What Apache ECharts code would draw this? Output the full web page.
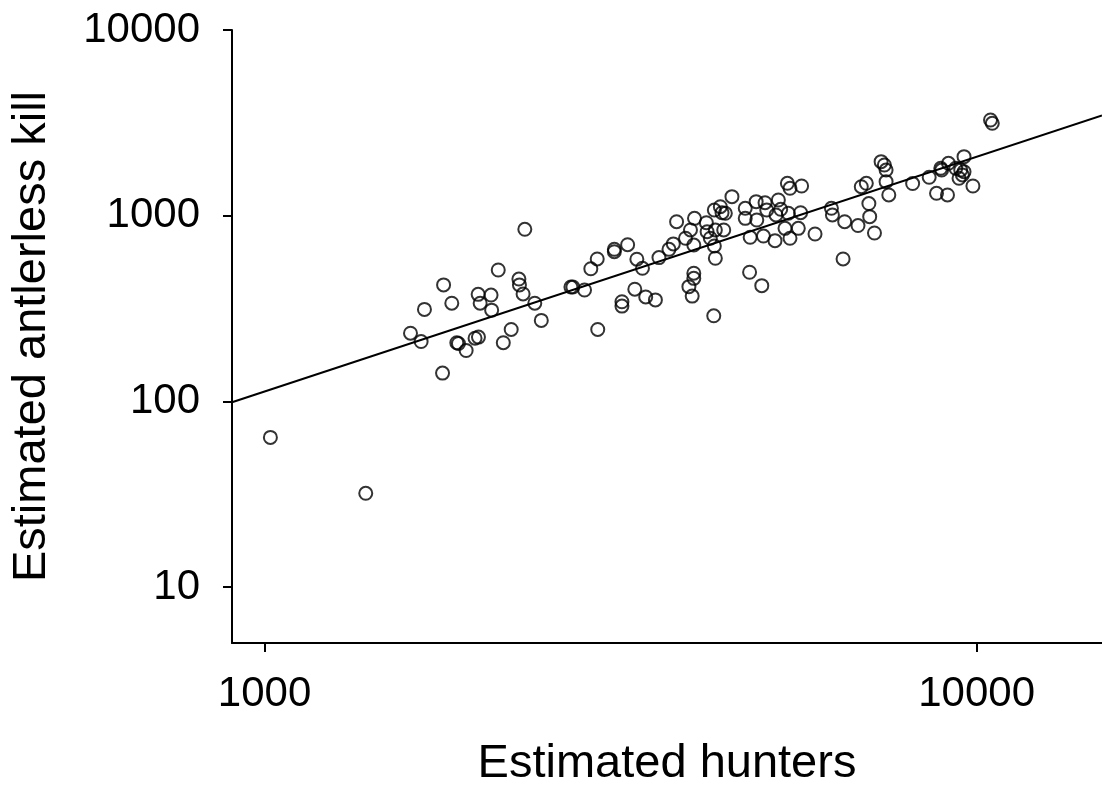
<!DOCTYPE html>
<html>
<head>
<meta charset="utf-8">
<script src="https://cdn.jsdelivr.net/npm/echarts@6/dist/echarts.min.js"></script>
<style>
    html, body { margin: 0; padding: 0; background: #fff; }
    #chart { width: 1102px; height: 793px; }
</style>
</head>
<body>
<div id="chart"></div>
<script>
// estimated hunters (x) and estimated antlerless kill (y), one entry per unit
const hunters = [
    1019, 1387,
    1603, 1659, 1677, 1784, 1778, 1832, 1862, 1872, 1919, 1975, 1997, 1995, 2080, 2008, 2084,
    2129, 2320, 2276, 2280, 2307, 2396, 2447, 2220, 2164, 2710, 2693, 2814, 2872, 2932, 2937,
    3099, 3099, 3235, 3333, 3394, 3311, 3430, 3539, 3176, 3176, 3580, 3698, 3750, 3790, 3901,
    3964, 4007, 4016, 4173, 4282, 4366, 4390, 4437, 4183, 4296, 4414, 4227, 4282, 4296, 4007,
    4007, 3944, 3986, 4274, 4533, 4732, 4732, 4902, 4912, 4808, 5045, 5073, 5019, 5210, 5267,
    5307, 5227, 5440, 5469, 5618, 5660, 5381, 5423, 5469, 5678, 5930, 4799, 4992, 6253, 6273,
    6527, 6814, 6493, 6887, 7000, 7058, 7077, 7187, 7343, 7421, 7462, 7462, 7528, 8131, 8578,
    8906, 8930, 9130, 9601, 9348, 9499, 9601, 9550, 9447, 8784, 9101, 9881, 10460, 10520
];
const antlerlessKill = [
    64, 32,
    233, 210, 313, 424, 142, 338, 207, 205, 188, 219, 222, 377, 374, 338, 310,
    510, 845, 456, 424, 379, 338, 273, 244, 207, 413, 413, 398, 518, 585, 244,
    659, 640, 698, 583, 521, 402, 365, 352, 344, 326, 595, 659, 705, 928, 756,
    838, 695, 968, 917, 1073, 1118, 1038, 1030, 820, 838, 838, 756, 687, 590, 490,
    460, 415, 369, 289, 1266, 1096, 968, 1190, 948, 765, 1175, 1073, 777, 734, 1215,
    1083, 1009, 1030, 756, 855, 1038, 855, 1495, 1405, 1445, 797, 496, 420, 1096, 1009,
    928, 885, 585, 1433, 1495, 1163, 988, 807, 1954, 1875, 1762, 1525, 1293, 1490, 1610,
    1800, 1762, 1915, 2079, 1800, 1762, 1726, 1657, 1590, 1320, 1293, 1445, 3276, 3145
];

// axis ranges and tick labels
const xRange = [900, 15000];
const yRange = [5, 10000];
const xTicks = [1000, 10000];
const yTicks = [10, 100, 1000, 10000];

// fitted line: log10(kill) = fitIntercept + fitSlope * log10(hunters)
const fitIntercept = -1.739;
const fitSlope = 1.264;

const points = hunters.map((h, i) => [h, antlerlessKill[i]]);
const fitLine = xRange.map(h => [h, Math.pow(10, fitIntercept + fitSlope * Math.log10(h))]);

const font = "'Liberation Sans', Arial, sans-serif";

const init = () => {
    const myChart = echarts.init(document.getElementById('chart'));
    let option = {
        animation: false,
        backgroundColor: '#fff',
        grid: {
            left: 232,
            top: 30,
            right: -5,
            bottom: 150
        },
        xAxis: {
            type: 'log',
            logBase: 10,
            min: xRange[0],
            max: xRange[1],
            name: 'Estimated hunters',
            nameLocation: 'middle',
            nameGap: 98,
            nameTextStyle: { fontSize: 47, color: '#000', fontFamily: font },
            axisLine: { lineStyle: { color: '#000', width: 2 } },
            axisTick: { length: 9, customValues: xTicks, lineStyle: { color: '#000', width: 2 } },
            axisLabel: {
                customValues: xTicks,
                margin: 30,
                fontSize: 42,
                color: '#000',
                fontFamily: font,
                formatter: v => String(v)
            },
            splitLine: { show: false },
            minorTick: { show: false }
        },
        yAxis: {
            type: 'log',
            logBase: 10,
            min: yRange[0],
            max: yRange[1],
            name: 'Estimated antlerless kill',
            nameLocation: 'middle',
            nameRotate: 90,
            nameGap: 176,
            nameTextStyle: { fontSize: 47, color: '#000', fontFamily: font },
            axisLine: { lineStyle: { color: '#000', width: 2 } },
            axisTick: { length: 9, customValues: yTicks, lineStyle: { color: '#000', width: 2 } },
            axisLabel: {
                customValues: yTicks,
                margin: 32,
                fontSize: 42,
                color: '#000',
                fontFamily: font,
                formatter: v => String(v)
            },
            splitLine: { show: false }
        },
        series: [
            {
                type: 'line',
                data: fitLine,
                showSymbol: false,
                lineStyle: { color: '#000', width: 2 },
                silent: true
            },
            {
                type: 'scatter',
                data: points,
                symbol: 'circle',
                symbolSize: 13,
                itemStyle: { color: 'rgba(0,0,0,0)', borderColor: '#000', borderWidth: 2 }
            }
        ]
    };
    myChart.setOption(option);
    window.addEventListener('resize', () => {
        myChart.resize();
    });
};
init();
</script>
</body>
</html>
